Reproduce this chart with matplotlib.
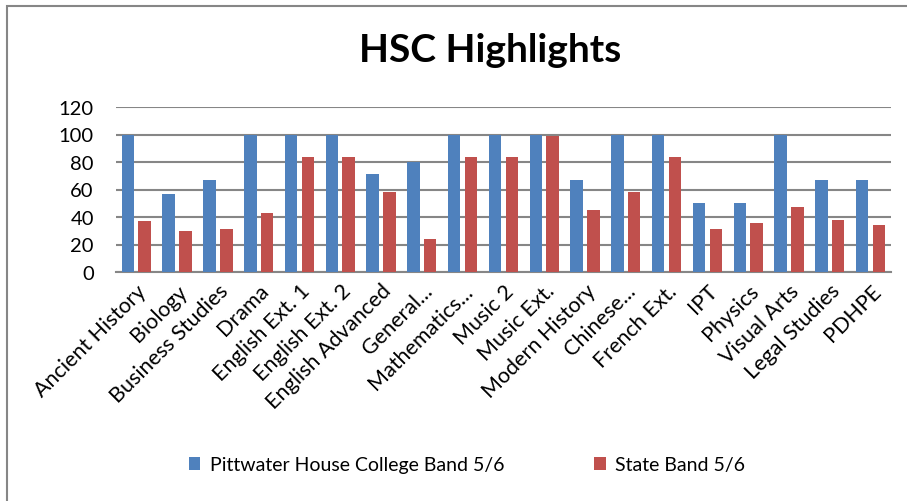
import matplotlib
matplotlib.use("Agg")
import matplotlib.pyplot as plt
from matplotlib.patches import Rectangle
import numpy as np

subjects = [
    "Ancient History", "Biology", "Business Studies", "Drama", "English Ext. 1",
    "English Ext. 2", "English Advanced", "General...", "Mathematics...", "Music 2",
    "Music Ext.", "Modern History", "Chinese...", "French Ext.", "IPT", "Physics",
    "Visual Arts", "Legal Studies", "PDHPE",
]
college = [100, 57, 67, 100, 100, 100, 71, 80, 100, 100, 100, 67, 100, 100, 50, 50, 100, 67, 67]
state = [37, 30, 31, 43, 84, 84, 58, 24, 84, 84, 99, 45, 58, 84, 31, 36, 47, 38, 34]

series_names = ["Pittwater House College Band 5/6", "State Band 5/6"]
colors = ["#4F81BD", "#C0504D"]

plt.rcParams["font.family"] = ["Lato", "DejaVu Sans"]

fig = plt.figure(figsize=(9.07, 5.02), dpi=100)
fig.patches.append(Rectangle((7 / 907, -0.1), 1.2, (495 + 0.1 * 502) / 502,
                             transform=fig.transFigure, fill=False,
                             edgecolor="#868686", linewidth=1.5))

ax = fig.add_axes([116 / 907, 1 - 273 / 502, 775 / 907, 165 / 502])
x = np.arange(len(subjects))
w = 0.306
ax.bar(x - 0.208, college, width=w, color=colors[0], label=series_names[0], zorder=3)
ax.bar(x + 0.204, state, width=w, color=colors[1], label=series_names[1], zorder=3)

ax.set_xlim(-0.5, len(subjects) - 0.5)
ax.set_ylim(0, 120)
ax.set_yticks(range(0, 121, 20))
ax.yaxis.grid(True, color="#868686", linewidth=1.5, zorder=0)
for s in ["left", "right", "top"]:
    ax.spines[s].set_visible(False)
ax.spines["bottom"].set_color("#868686")
ax.spines["bottom"].set_linewidth(1.5)
ax.tick_params(length=0, labelsize=14.5)
ax.tick_params(axis="y", pad=16)
ax.set_xticks(x)
ax.set_xticklabels(subjects, rotation=45, ha="right", rotation_mode="anchor", fontsize=15.5)
ax.tick_params(axis="x", pad=6)

fig.text(0.54, 0.9, "HSC Highlights", ha="center", va="center", fontsize=28, fontweight="bold")

fig.legend(loc="center", bbox_to_anchor=(0.515, 1 - 466 / 502), ncol=2, frameon=False,
           fontsize=14, handlelength=0.6, handleheight=0.6, columnspacing=4.6, handletextpad=0.5)

fig.savefig("out.png", dpi=100)
